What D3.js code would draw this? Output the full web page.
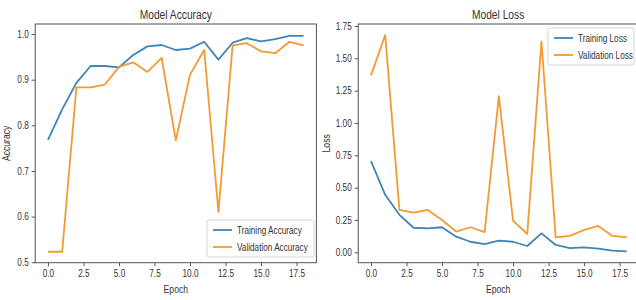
<!DOCTYPE html>
<html>
<head>
<meta charset="utf-8">
<script src="https://cdn.jsdelivr.net/npm/d3@7"></script>
<style>
  body { margin: 0; background: #fff; }
  svg { display: block; }
  text { font-family: "Liberation Sans", Arial, sans-serif; fill: #333; }
</style>
</head>
<body>
<div id="chart"></div>
<script>
const epochs = d3.range(19);
const xTicks = [0, 2.5, 5, 7.5, 10, 12.5, 15, 17.5];

const trainAcc = [0.768, 0.835, 0.893, 0.930, 0.930, 0.927, 0.954, 0.973, 0.976, 0.965, 0.968, 0.983, 0.944, 0.981, 0.991, 0.984, 0.989, 0.996, 0.996];
const valAcc = [0.523, 0.523, 0.883, 0.883, 0.889, 0.928, 0.938, 0.917, 0.948, 0.767, 0.911, 0.965, 0.610, 0.975, 0.980, 0.962, 0.958, 0.983, 0.975];
const accTicks = [0.5, 0.6, 0.7, 0.8, 0.9, 1.0];

const trainLoss = [0.705, 0.445, 0.290, 0.190, 0.185, 0.194, 0.121, 0.082, 0.064, 0.090, 0.082, 0.049, 0.147, 0.057, 0.033, 0.038, 0.028, 0.013, 0.008];
const valLoss = [1.368, 1.680, 0.328, 0.307, 0.328, 0.250, 0.160, 0.194, 0.157, 1.207, 0.245, 0.142, 1.629, 0.116, 0.127, 0.173, 0.204, 0.127, 0.116];
const lossTicks = [0, 0.25, 0.5, 0.75, 1.0, 1.25, 1.5, 1.75];

const blue = "#3f85b8";
const orange = "#f39a33";
const squeeze = 0.82; // reference text looks horizontally compressed

const width = 636, height = 300;
const svg = d3.select("#chart").append("svg")
  .attr("width", width).attr("height", height);

const addText = (g, x, y, str, size, rotate = 0) =>
  g.append("text")
    .attr("transform", `translate(${x},${y}) rotate(${rotate}) scale(${squeeze},1)`)
    .attr("text-anchor", "middle")
    .attr("font-size", size)
    .text(str);

const drawPanel = (cfg) => {
  const { id, left, right, top, bottom, yDomain, yTicks, yFormat, title, yLabel, yLabelX, series, legend } = cfg;
  const g = svg.append("g");
  const x = d3.scaleLinear().domain([-0.9, 18.9]).range([left, right]);
  const y = d3.scaleLinear().domain(yDomain).range([bottom, top]);

  g.append("defs").append("clipPath").attr("id", `clip-${id}`)
    .append("rect").attr("x", left).attr("y", top).attr("width", right - left).attr("height", bottom - top);

  const line = (vals) => d3.line().x((d, i) => x(epochs[i])).y((d) => y(d))(vals);
  series.forEach((s) => {
    g.append("path")
      .attr("d", line(s.values))
      .attr("fill", "none")
      .attr("stroke", s.color)
      .attr("stroke-width", 1.8)
      .attr("stroke-linejoin", "round")
      .attr("clip-path", `url(#clip-${id})`);
  });

  // frame
  g.append("rect")
    .attr("x", left).attr("y", top)
    .attr("width", right - left).attr("height", bottom - top)
    .attr("fill", "none").attr("stroke", "#555").attr("stroke-width", 1);

  const xAxis = g.append("g").attr("transform", `translate(0,${bottom})`)
    .call(d3.axisBottom(x).tickValues(xTicks).tickFormat(d3.format(".1f")).tickSize(3.5).tickPadding(4));
  const yAxis = g.append("g").attr("transform", `translate(${left},0)`)
    .call(d3.axisLeft(y).tickValues(yTicks).tickFormat(yFormat).tickSize(3.5).tickPadding(3));
  [xAxis, yAxis].forEach((a) => {
    a.select(".domain").remove();
    a.selectAll(".tick line").attr("stroke", "#555");
    a.selectAll(".tick text").attr("font-size", 10).attr("fill", "#333")
      .attr("transform", `scale(${squeeze},1)`)
      .style("font-family", '"Liberation Sans", Arial, sans-serif');
  });
  yAxis.selectAll(".tick text").attr("x", -6.5 / squeeze);

  const cx = (left + Math.min(right, width - 2)) / 2 + (right > width ? 2 : 0);
  addText(g, cx, 19, title, 12.5);
  addText(g, cx, 293, "Epoch", 10.5);
  addText(g, yLabelX, (top + bottom) / 2, yLabel, 10.5, -90);

  const lg = g.append("g").attr("transform", `translate(${legend.x},${legend.y})`);
  lg.append("rect").attr("width", legend.w).attr("height", 37).attr("rx", 2)
    .attr("fill", "#fff").attr("fill-opacity", 0.85).attr("stroke", "#d6d6d6");
  series.forEach((s, i) => {
    const yy = 10 + i * 17;
    lg.append("line").attr("x1", 6).attr("x2", 25).attr("y1", yy).attr("y2", yy)
      .attr("stroke", s.color).attr("stroke-width", 1.8);
    lg.append("text")
      .attr("transform", `translate(30,${yy + 3.5}) scale(${squeeze},1)`)
      .attr("font-size", 10).text(s.name);
  });
};

drawPanel({
  id: "acc",
  left: 35.2, right: 316.4, top: 24, bottom: 262.7,
  yDomain: [0.499, 1.022], yTicks: accTicks, yFormat: d3.format(".1f"),
  title: "Model Accuracy", yLabel: "Accuracy", yLabelX: 10,
  series: [
    { name: "Training Accuracy", values: trainAcc, color: blue },
    { name: "Validation Accuracy", values: valAcc, color: orange },
  ],
  legend: { x: 207, y: 220, w: 107 },
});

drawPanel({
  id: "loss",
  left: 358.2, right: 639.5, top: 24, bottom: 262.7,
  yDomain: [-0.08, 1.765], yTicks: lossTicks, yFormat: d3.format(".2f"),
  title: "Model Loss", yLabel: "Loss", yLabelX: 330,
  series: [
    { name: "Training Loss", values: trainLoss, color: blue },
    { name: "Validation Loss", values: valLoss, color: orange },
  ],
  legend: { x: 548, y: 28, w: 86 },
});
</script>
</body>
</html>
